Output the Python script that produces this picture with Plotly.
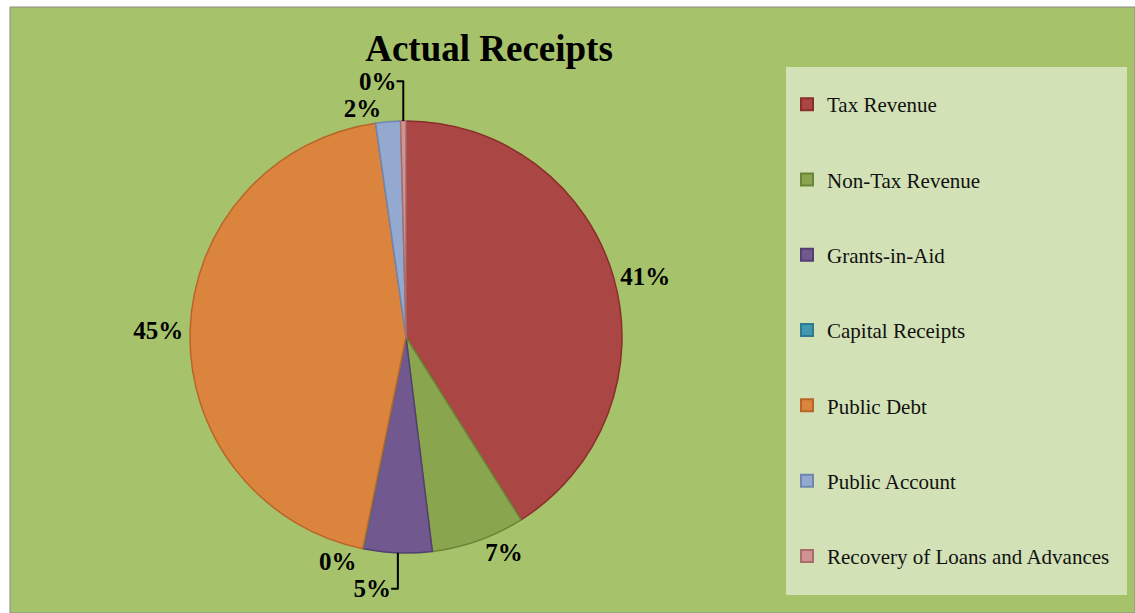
import plotly.graph_objects as go

# Receipt categories and their shares of actual receipts (%)
categories = [
    "Tax Revenue",
    "Non-Tax Revenue",
    "Grants-in-Aid",
    "Capital Receipts",
    "Public Debt",
    "Public Account",
    "Recovery of Loans and Advances",
]
shares = [41.1, 7.0, 5.1, 0.05, 44.6, 1.85, 0.4]

fill_colors = ["#AA4643", "#89A54E", "#71588F", "#4198AF", "#DB843D", "#93A9CF", "#D19392"]
edge_colors = ["#8A2E2C", "#6B8538", "#533F70", "#2E7A8F", "#B8652A", "#6F86AE", "#A86E6D"]

W, H = 1135, 613
serif = "Liberation Serif"

fig = go.Figure()

fig.add_trace(go.Pie(
    labels=categories,
    values=shares,
    sort=False,
    direction="clockwise",
    rotation=0,
    marker=dict(colors=fill_colors, line=dict(color=edge_colors, width=1.5)),
    textinfo="percent",
    texttemplate="%{percent:.0%}",
    textposition="outside",
    textfont=dict(family=serif, size=25, color="black", weight="bold"),
    domain=dict(x=[190 / W, 622 / W], y=[60 / H, 492 / H]),
    showlegend=False,
    hoverinfo="label+percent",
))

# Legend entries: one empty square-marker trace per category so that
# each entry can sit in its own group with a wide gap between them.
for name, fc, ec in zip(categories, fill_colors, edge_colors):
    fig.add_trace(go.Scatter(
        x=[None], y=[None],
        mode="markers",
        name=name,
        legendgroup=name,
        marker=dict(symbol="square", size=11, color=fc, line=dict(color=ec, width=1)),
    ))

fig.update_layout(
    width=W,
    height=H,
    margin=dict(l=0, r=0, t=0, b=0),
    paper_bgcolor="white",
    plot_bgcolor="rgba(0,0,0,0)",
    xaxis=dict(visible=False, range=[0, 1]),
    yaxis=dict(visible=False, range=[0, 1]),
    title=dict(
        text="Actual Receipts",
        x=489 / W,
        xanchor="center",
        y=1 - 48 / H,
        yanchor="middle",
        font=dict(family=serif, size=37, color="black", weight="bold"),
    ),
    legend=dict(
        x=787 / W,
        xanchor="left",
        y=1 - 84 / H,
        yanchor="top",
        bgcolor="rgba(0,0,0,0)",
        font=dict(family=serif, size=21, color="#111111"),
        tracegroupgap=45,
        traceorder="grouped",
        itemsizing="constant",
    ),
    shapes=[
        # chart area
        dict(type="rect", xref="paper", yref="paper", layer="below",
             x0=10 / W, x1=1.0, y0=0.0, y1=1 - 7 / H,
             fillcolor="#A6C36B", line=dict(color="#8A8A8A", width=1)),
        # legend panel
        dict(type="rect", xref="paper", yref="paper", layer="below",
             x0=786 / W, x1=1127 / W, y0=1 - 595 / H, y1=1 - 67 / H,
             fillcolor="#D3E2B6", line=dict(width=0)),
    ],
)

# keep any label overhang inside the figure box
fig.write_html(
    "out.html",
    post_script="document.getElementById('{plot_id}').style.overflow = 'hidden';",
)
